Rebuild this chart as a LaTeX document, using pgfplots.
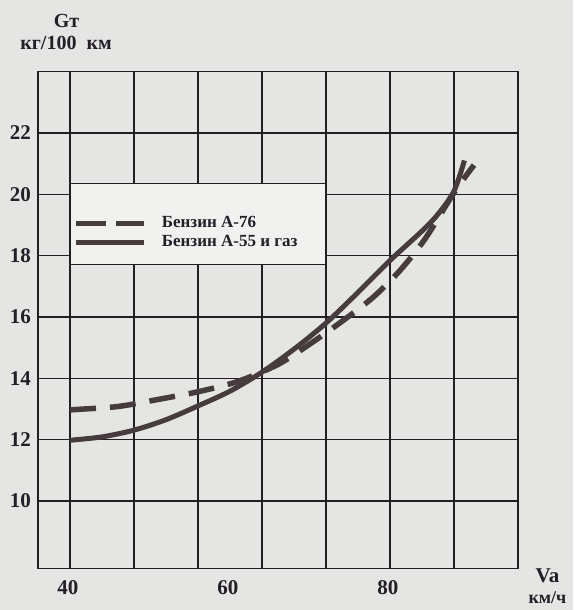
\documentclass[border=0pt]{standalone}
\usepackage{fontspec}
\setmainfont{Liberation Serif}
\usepackage{pgfplots}
\pgfplotsset{compat=1.18}
\definecolor{crv}{RGB}{70,60,62}
\definecolor{gridc}{RGB}{35,30,35}
\definecolor{bgc}{RGB}{229,229,227}
\definecolor{patchc}{RGB}{241,241,239}
\definecolor{txt}{RGB}{35,30,40}

\pgfplotstableread{
x y
40   12.97
41.2 12.99
46   13.08
51   13.31
55.8 13.55
60.9 13.89
66   14.45
70   15.12
73.7 15.80
77.8 16.62
81.2 17.50
84.4 18.55
88   20.05
90.5 20.95
}\benzinA
\pgfplotstableread{
x y
40   11.98
44   12.09
48   12.31
52   12.65
56   13.10
60   13.58
64   14.20
68   14.95
72   15.80
76   16.80
80   17.84
84   18.80
86   19.35
88   20.10
89.3 21.10
}\benzinB

\begin{document}
\begin{tikzpicture}
\fill[bgc] (-38pt,-41.5pt) rectangle (535pt,568.5pt);
\begin{axis}[
  scale only axis, width=480pt, height=497pt,
  xmin=36, xmax=96, ymin=7.8, ymax=24,
  xtick={40,48,56,64,72,80,88}, xticklabels={},
  extra x ticks={40,60,80}, extra x tick labels={40,60,80},
  extra x tick style={grid=none},
  ytick={10,12,14,16,18,20,22},
  tick style={draw=none},
  grid=major,
  major grid style={gridc, line width=1.3pt},
  axis line style={gridc, line width=1.4pt},
  tick label style={font=\fontsize{21}{24}\selectfont\bfseries, text=txt},
  /pgf/number format/assume math mode=true,
  xticklabel style={inner sep=0pt, anchor=north, yshift=-12pt, xshift=-2pt},
  yticklabel style={inner sep=0pt, anchor=east, xshift=-7pt},
  legend cell align=left,
  legend style={at={(axis cs:40.4,19.3)}, anchor=north west, draw=none, fill=none,
    inner sep=0pt, font=\fontsize{17}{20}\selectfont\bfseries, text=txt,
    row sep=4pt, nodes={inner sep=0pt, text height=12pt, text depth=3pt},
    /tikz/every odd column/.append style={column sep=15pt}},
]
\fill[patchc] (axis cs:40.1,17.72) rectangle (axis cs:71.9,20.35);
\draw[gridc, line width=1.3pt] (axis cs:40,20.35) -- (axis cs:72,20.35);
\draw[gridc, line width=1.3pt] (axis cs:40,17.72) -- (axis cs:72,17.72);
\addplot[crv, line width=5.5pt, dash pattern=on 26pt off 14pt, line cap=butt, smooth, tension=0.5,
  legend image code/.code={\draw[crv, line width=5.5pt, dash pattern=on 30pt off 10pt] (0pt,0pt) -- (68pt,0pt);}]
  table {\benzinA};
\addlegendentry{Бензин А-76}
\addplot[crv, line width=5pt, smooth, tension=0.5,
  legend image code/.code={\draw[crv, line width=5pt] (0pt,0pt) -- (68pt,0pt);}]
  table {\benzinB};
\addlegendentry{Бензин А-55 и газ}
\end{axis}
\node[anchor=base, font=\fontsize{20}{24}\selectfont\bfseries, text=txt] at (28.5pt,540.5pt) {Gт};
\node[anchor=base, font=\fontsize{20}{24}\selectfont\bfseries, text=txt] at (28pt,518.5pt) {кг/100\ \ км};
\node[anchor=base, font=\fontsize{21}{24}\selectfont\bfseries, text=txt] at (509.5pt,-13.5pt) {Va};
\node[anchor=base, font=\fontsize{18}{22}\selectfont\bfseries, text=txt] at (509.5pt,-34.5pt) {км/ч};
\pgfresetboundingbox
\path[use as bounding box] (-38pt,-41.5pt) rectangle (535pt,568.5pt);
\end{tikzpicture}
\end{document}
